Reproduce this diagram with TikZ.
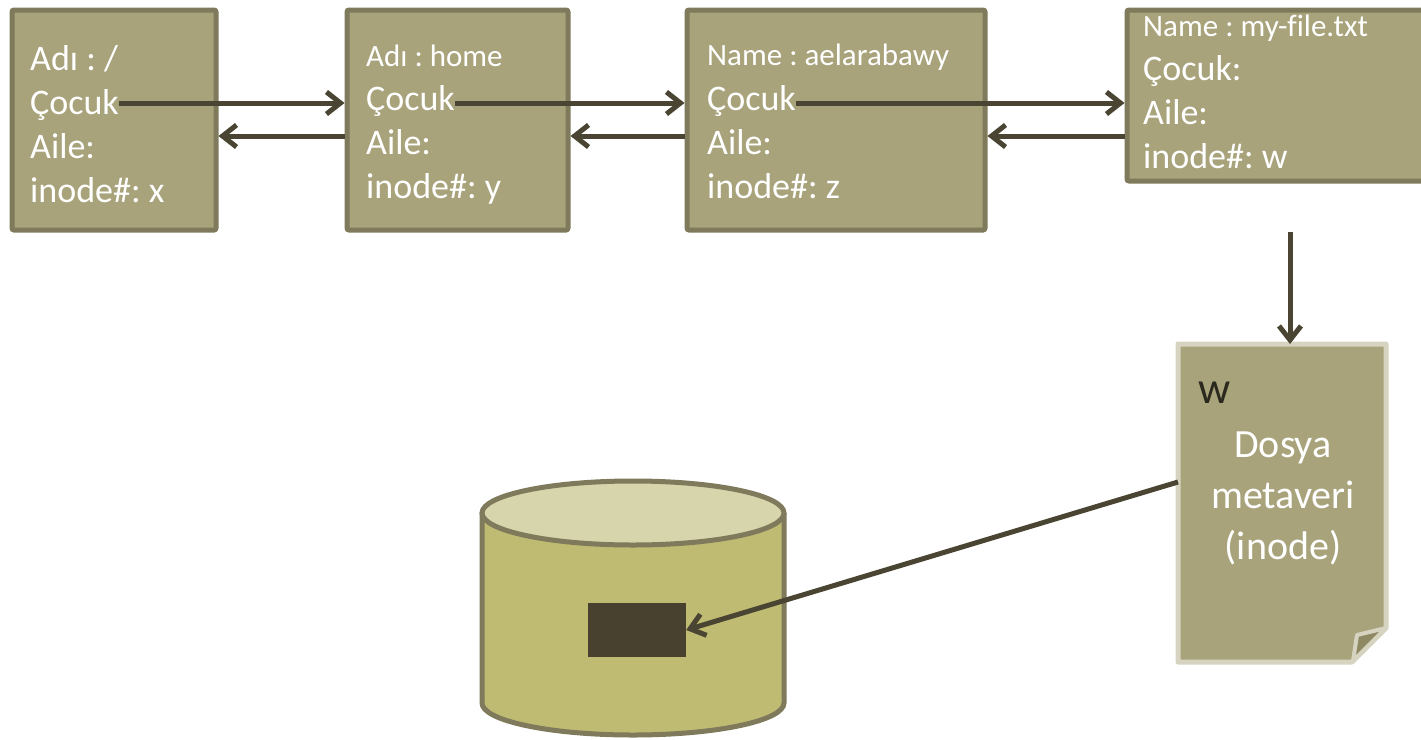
\documentclass[tikz,border=0pt]{standalone}
\usepackage{fontspec}
\setmainfont{Carlito}[Ligatures=NoCommon]
\usetikzlibrary{arrows.meta,calc}

\definecolor{boxfill}{HTML}{A8A37B}
\definecolor{boxline}{HTML}{7E7A5B}
\definecolor{linkcol}{HTML}{4A4432}
\definecolor{docline}{HTML}{D6D4C1}
\definecolor{foldcol}{HTML}{8E8963}
\definecolor{cyltop}{HTML}{D7D5AB}
\definecolor{cylbody}{HTML}{C0BB72}
\definecolor{blockcol}{HTML}{48412F}
\definecolor{wcol}{HTML}{2B281D}

\tikzset{
	dirbox/.style={draw=boxline, fill=boxfill, line width=5pt, rounded corners=2pt, inner sep=0pt},
	big/.style={text=white, inner sep=0pt, anchor=base west, font=\fontsize{36}{44}\selectfont},
	small/.style={big, font=\fontsize{31}{38}\selectfont},
	link/.style={draw=linkcol, line width=5pt, -{Straight Barb[length=14pt,width=22pt]}}
}

\begin{document}
\frenchspacing
\begin{tikzpicture}[x=1pt, y=-1pt]
			\useasboundingbox (0,0) rectangle (1421,739);

			% Directory entries
			\node[dirbox, minimum width=204pt, minimum height=220pt] (d1) at (114,120) {};
			\node[dirbox, minimum width=221pt, minimum height=220pt] (d2) at (457.5,120) {};
			\node[dirbox, minimum width=298pt, minimum height=220pt] (d3) at (836,120) {};
			\node[dirbox, minimum width=304pt, minimum height=171pt] (d4) at (1279,95.5) {};

			% Entry texts
			\node[big] (n1) at (30,70) {Adı : /};
			\node[big] (c1) at (30,114) {Çocuk};
			\node[big] (p1) at (30,158) {Aile:};
			\node[big] (i1) at (30,202) {inode\#: x};

			\node[small] (n2) at (366,66) {Adı : home};
			\node[big] (c2) at (366,110) {Çocuk};
			\node[big] (p2) at (366,154) {Aile:};
			\node[big] (i2) at (366,198) {inode\#: y};

			\node[small] (n3) at (707,65) {Name : aelarabawy};
			\node[big] (c3) at (707,110) {Çocuk};
			\node[big] (p3) at (707,154) {Aile:};
			\node[big] (i3) at (707,198) {inode\#: z};

			\node[small] (n4) at (1143,36) {Name : my-file.txt};
			\node[big] (c4) at (1143,80) {Çocuk:};
			\node[big] (p4) at (1143,124) {Aile:};
			\node[big] (i4) at (1143,168) {inode\#: w};

			% Child links
			\coordinate (f1) at ([yshift=11pt]c1.base east);
			\coordinate (f2) at ([yshift=7pt]c2.base east);
			\coordinate (f3) at ([yshift=7pt]c3.base east);
			\draw[link] (f1) -- (f1 -| d2.west);
			\draw[link] (f2) -- (f2 -| d3.west);
			\draw[link] (f3) -- (f3 -| d4.west);

			% Parent links
			\coordinate (b1) at ([yshift=-16pt]d1.east);
			\coordinate (b2) at ([yshift=-16pt]d2.east);
			\coordinate (b3) at ([yshift=-16pt]d3.east);
			\draw[link] (b1 -| d2.west) -- (b1);
			\draw[link] (b2 -| d3.west) -- (b2);
			\draw[link] (b3 -| d4.west) -- (b3);

			% inode page
			\draw[docline, fill=boxfill, line width=5pt, line join=round]
				(1178,344) -- (1386,344) -- (1386,628) -- (1352,662) -- (1178,662) -- cycle;
			\draw[docline, fill=foldcol, line width=4pt, line join=round]
				(1386,628) -- (1357,635) -- (1353,661) -- cycle;
			\coordinate (doctop) at (1290,344);
			\coordinate (docleft) at (1178,482);
			\node[text=wcol, inner sep=0pt, anchor=base west, font=\fontsize{45}{50}\selectfont] (wlbl) at (1198,403) {w};
			\node[text=white, inner sep=0pt, align=center, font=\fontsize{40}{51}\selectfont] (meta) at (1283,498) {Dosya\\metaveri\\(inode)};

			\coordinate (wtop) at (1290,232);
			\draw[link] (wtop) -- (doctop);

			% Disk
			\fill[cylbody] (482,513) rectangle (784,703);
			\fill[cylbody] (633,703) ellipse [x radius=151, y radius=32];
			\draw[boxline, line width=5pt] (482,513) -- (482,703) arc[start angle=180, end angle=0, x radius=151, y radius=32] -- (784,513);
			\draw[boxline, fill=cyltop, line width=5pt] (633,513) ellipse [x radius=151, y radius=32];
			\node[fill=blockcol, minimum width=98pt, minimum height=54pt, inner sep=0pt] (blk) at (637,630) {};

			\draw[link] (docleft) -- (blk.east);
		\end{tikzpicture}
\end{document}
